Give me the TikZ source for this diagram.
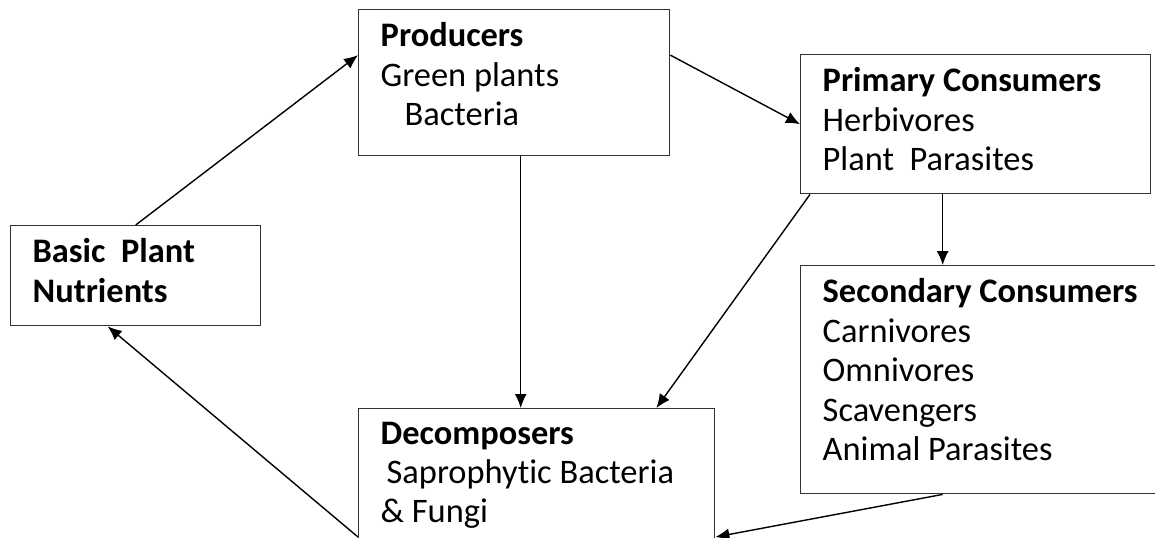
\documentclass[tikz,border=0pt]{standalone}
\usepackage{fontspec}
\setmainfont{Carlito}[Ligatures=NoCommon]
\usetikzlibrary{positioning, arrows.meta}

\newcommand{\lvltext}[3]{\parbox[t][#2][t]{#1}{\raggedright #3}}

\begin{document}
\begin{tikzpicture}[x=0.5pt, y=-0.5pt, >={Latex[length=7pt,width=6pt]},
    level/.style={draw=black!80, line width=0.7pt, anchor=north west,
        inner xsep=11pt, inner ysep=6.5pt, font=\fontsize{17.2}{19.7}\selectfont},
    flow/.style={->, line width=0.7pt}]
    \useasboundingbox (0,0) rectangle (1155,537);

    \node[level] (prod) at (358,9) {\lvltext{133.5pt}{60pt}{%
        \textbf{Producers}\\Green plants\\\hspace*{12pt}Bacteria}};
    \node[level] (prim) at (800,54) {\lvltext{153pt}{56.5pt}{%
        \textbf{Primary Consumers}\\Herbivores\\Plant~~Parasites}};
    \node[level] (basic) at (10,225) {\lvltext{103pt}{37pt}{%
        \textbf{Basic~~Plant}\\\textbf{Nutrients}}};
    \node[level] (sec) at (800,265) {\lvltext{159pt}{101pt}{%
        \textbf{Secondary Consumers}\\Carnivores\\Omnivores\\Scavengers\\Animal Parasites}};
    \node[level] (decomp) at (358,408) {\lvltext{156pt}{67pt}{%
        \textbf{Decomposers}\\\hspace*{3pt}Saprophytic Bacteria\\\& Fungi}};

    \draw[flow] (basic.north) -- (prod.170);
    \draw[flow] (prod.10) -- (prim.west);
    \draw[flow] ([xshift=3.25pt]prod.south) -- ([xshift=3.25pt]prod.south |- decomp.north);
    \draw[flow] ([xshift=5pt]prim.south west) -- ([xshift=-29.5pt]decomp.north east);
    \draw[flow] ([xshift=-16.5pt]prim.south) -- ([xshift=-16.5pt]prim.south |- sec.north);
    \draw[flow] ([xshift=-19.5pt]sec.south) -- ([yshift=-64.5pt]decomp.north east);
    \draw[flow] ([yshift=-64.5pt]decomp.north west) -- ([xshift=-14pt]basic.south);
\end{tikzpicture}
\end{document}
